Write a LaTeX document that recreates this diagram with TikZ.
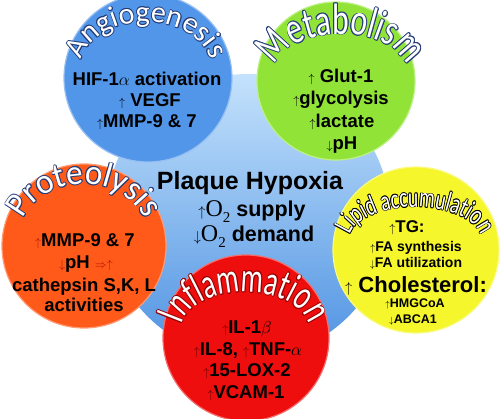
\documentclass[tikz,border=0pt]{standalone}
\usepackage{fontspec}
\setmainfont{Liberation Sans}
\newfontfamily\serif{Liberation Serif}
\newfontfamily\ttlA{Carlito}
\newfontfamily\ttlB[FakeStretch=0.72]{Carlito}
\newfontfamily\ttlC[FakeStretch=0.95]{Carlito}
\newfontfamily\ttlD[FakeStretch=0.66]{Carlito}
\newfontfamily\ttlE[FakeStretch=0.7]{Carlito}
\usetikzlibrary{decorations.text,calc}
\definecolor{angio}{RGB}{82,150,234}
\definecolor{metab}{RGB}{145,228,55}
\definecolor{prot}{RGB}{255,90,25}
\definecolor{infl}{RGB}{238,14,14}
\definecolor{lipid}{RGB}{246,246,45}
\definecolor{ctop}{RGB}{196,226,252}
\definecolor{cbot}{RGB}{78,146,226}
\definecolor{arrred}{RGB}{175,20,0}
\definecolor{arrdark}{RGB}{105,0,0}
\definecolor{outblue}{RGB}{35,60,120}
\definecolor{outred}{RGB}{150,0,0}
\newcommand\fs[1]{\fontsize{#1}{#1}\selectfont}
\newcommand\up[1][12]{{\fontsize{#1}{#1}\selectfont$\uparrow$}}
\newcommand\dn[1][12]{{\fontsize{#1}{#1}\selectfont$\downarrow$}}
\newcommand\Otwo{{\serif\mdseries\fs{24}O\raisebox{-0.22em}{\fs{15}2}}}
% #1 cx, #2 cy, #3 x radius, #4 y radius, #5 font, #6 outline colour, #7 text
\newcommand\ArcTitle[7]{%
  \foreach \dx/\dy in {0.8/0,-0.8/0,0/0.8,0/-0.8,0.55/0.55,-0.55/0.55,0.55/-0.55,-0.55/-0.55}{%
    \path[decorate,decoration={text along path,text align=center,
      text={|#5\color{#6}|#7}}]
      ($(#1,#2)+(\dx,\dy)+(-#3,0)$) arc[start angle=180,end angle=0,x radius=#3,y radius=#4];
  }%
  \path[decorate,decoration={text along path,text align=center,
      text={|#5\color{white}|#7}}]
      ($(#1,#2)+(-#3,0)$) arc[start angle=180,end angle=0,x radius=#3,y radius=#4];
}
\tikzset{
  blob/.style={circle,inner sep=0pt,minimum size=#1,line width=1.2pt},
  txt/.style={anchor=base,inner sep=0pt,font=\bfseries\fs{18.5}},
}
\begin{document}
\begin{tikzpicture}[x=1pt,y=1pt]
\useasboundingbox (0,0) rectangle (500,-419);
% central circle
\shade[top color=ctop,bottom color=cbot] (248,-216) circle (142);
\node[blob=168pt,fill=angio,draw=angio!60!white] (angioC) at (148,-78) {};
\node[blob=158pt,fill=metab,draw=metab!60!white] (metabC) at (336,-81) {};
\node[blob=164pt,fill=prot,draw=prot!60!white] (protC) at (84,-246) {};
\node[blob=166pt,fill=infl,draw=infl!60!white] (inflC) at (246,-338) {};
\node[blob=166pt,fill=lipid,draw=lipid!60!white] (lipidC) at (416,-250) {};

% titles
\ArcTitle{146}{-70}{66}{48}{\ttlA\fs{30}}{outblue}{Angiogenesis}
\ArcTitle{341}{-72}{66}{38}{\ttlB\fs{44}}{outblue}{Metabolism}
\ArcTitle{84}{-236}{64}{52}{\ttlC\fs{35}}{outblue}{Proteolysis}
\ArcTitle{245}{-330}{64}{38}{\ttlD\fs{42}}{outred}{Inflammation}
\ArcTitle{415}{-240}{66}{33}{\ttlE\fs{28}}{black}{Lipid accumulation}

% angiogenesis
\node[txt] (a1) at (147,-86) {HIF-1$\alpha$ activation};
\node[txt] (a2) at (150,-107) {\up\ VEGF};
\node[txt] (a3) at (147,-128) {\up MMP-9 \& 7};
% metabolism
\node[txt] (m1) at (341,-83) {\up\ Glut-1};
\node[txt] (m2) at (341,-105) {\up glycolysis};
\node[txt] (m3) at (342,-128) {\up lactate};
\node[txt] (m4) at (342,-150) {\dn pH};
% centre
\node[txt,font=\bfseries\fs{25}] (c1) at (250,-190) {Plaque Hypoxia};
\node[txt,font=\bfseries\fs{21.5}] (c2) at (252,-217) {\up[14]\Otwo\ supply};
\node[txt,font=\bfseries\fs{21.5}] (c3) at (254,-242) {\dn[14]\Otwo\ demand};
% proteolysis
\node[txt] (p1) at (85,-247) {\textcolor{arrred}{\up}MMP-9 \& 7};
\node[txt] (p2) at (86,-269) {\textcolor{arrred}{\dn}pH \textcolor{arrred}{\fs{12}$\Rightarrow$\up}};
\node[txt] (p3) at (84,-291) {cathepsin S,K, L};
\node[txt] (p4) at (84,-311) {activities};
% inflammation
\node[txt] (i1) at (247,-333) {\textcolor{arrdark}{\up}IL-1$\beta$};
\node[txt] (i2) at (248,-355) {\textcolor{arrdark}{\up}IL-8, \textcolor{arrdark}{\up}TNF-$\alpha$};
\node[txt] (i3) at (247,-376) {\textcolor{arrdark}{\up}15-LOX-2};
\node[txt] (i4) at (246,-398) {\textcolor{arrdark}{\up}VCAM-1};
% lipid
\node[txt,font=\bfseries\fs{17}] (l1) at (407,-233) {\up[12]TG:};
\node[txt,font=\bfseries\fs{14}] (l2) at (416,-252) {\up[10]FA synthesis};
\node[txt,font=\bfseries\fs{14}] (l3) at (416,-268) {\dn[10]FA utilization};
\node[txt,font=\bfseries\fs{22}] (l4) at (416,-292) {\up[14]\ Cholesterol:};
\node[txt,font=\bfseries\fs{12.5}] (l5) at (415,-308) {\up[9]HMGCoA};
\node[txt,font=\bfseries\fs{12.5}] (l6) at (413,-323) {\dn[9]ABCA1};
\end{tikzpicture}
\end{document}
